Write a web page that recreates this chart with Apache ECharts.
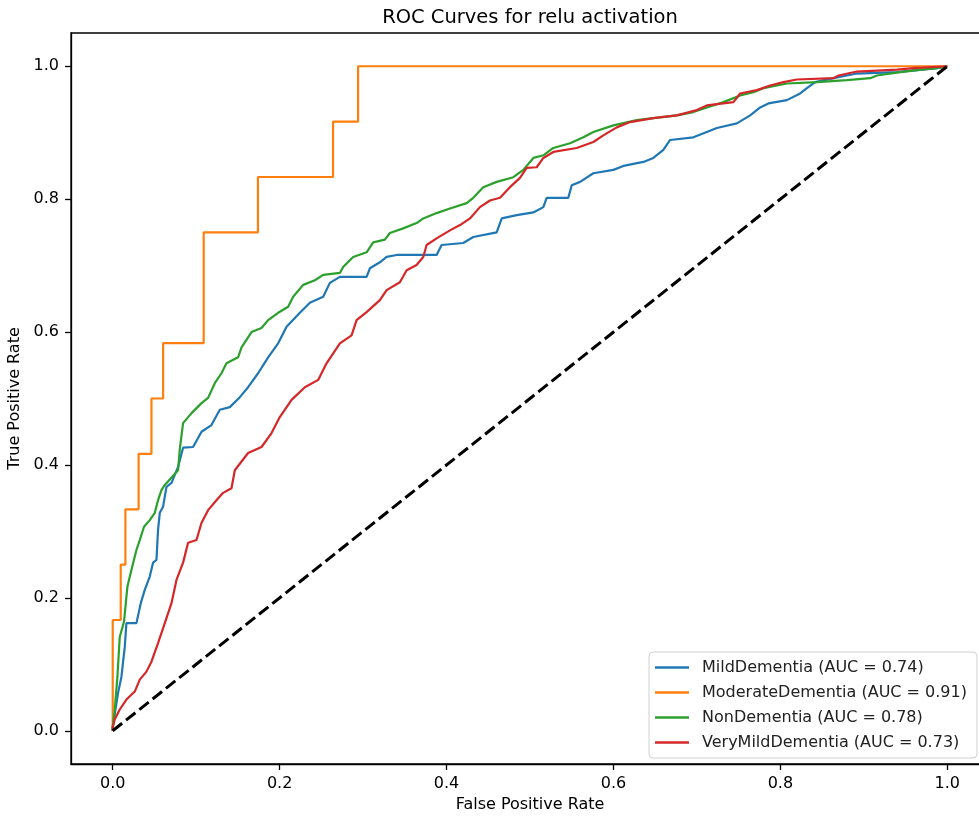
<!DOCTYPE html>
<html>
<head>
<meta charset="utf-8">
<title>ROC Curves for relu activation</title>
<script src="https://cdn.jsdelivr.net/npm/echarts@6/dist/echarts.min.js"></script>
<style>
  html, body { margin: 0; padding: 0; background: #fff; }
  #chart { width: 979px; height: 818px; }
</style>
</head>
<body>
<div id="chart"></div>
<script>
// tick labels
var tickValues = [0, 0.2, 0.4, 0.6, 0.8, 1.0];

// MildDementia
var mildFpr = [0, 0, 0.0064, 0.0104, 0.0144, 0.0164, 0.0284, 0.0336, 0.0384, 0.0444, 0.0483, 0.0524, 0.0543, 0.0564, 0.0603, 0.0644, 0.0704, 0.0783, 0.0843, 0.0963, 0.1064, 0.1183, 0.1283, 0.1403, 0.1523, 0.1622, 0.1742, 0.1862, 0.1982, 0.2083, 0.2242, 0.2362, 0.2522, 0.2602, 0.2722, 0.3042, 0.3082, 0.3201, 0.3282, 0.3402, 0.3881, 0.3941, 0.4200, 0.4320, 0.4601, 0.4661, 0.4841, 0.5040, 0.5160, 0.5200, 0.5459, 0.5500, 0.5600, 0.5759, 0.5999, 0.6119, 0.6359, 0.6478, 0.6598, 0.6679, 0.6958, 0.7239, 0.7479, 0.7638, 0.7758, 0.7857, 0.8078, 0.8237, 0.8318, 0.8417, 0.8637, 0.8917, 0.9397, 0.9637, 0.9876, 1];
var mildTpr = [0, 0.006, 0.057, 0.081, 0.126, 0.162, 0.162, 0.192, 0.212, 0.232, 0.253, 0.257, 0.302, 0.328, 0.337, 0.367, 0.373, 0.397, 0.426, 0.427, 0.450, 0.460, 0.483, 0.487, 0.502, 0.517, 0.538, 0.562, 0.583, 0.608, 0.629, 0.644, 0.653, 0.674, 0.683, 0.683, 0.696, 0.705, 0.713, 0.716, 0.716, 0.731, 0.734, 0.743, 0.750, 0.771, 0.776, 0.780, 0.788, 0.802, 0.802, 0.821, 0.826, 0.839, 0.844, 0.850, 0.856, 0.862, 0.874, 0.889, 0.893, 0.907, 0.914, 0.926, 0.938, 0.944, 0.949, 0.959, 0.967, 0.976, 0.982, 0.989, 0.991, 0.994, 0.997, 1];

// ModerateDementia
var moderateFpr = [0, 0, 0.0096, 0.0096, 0.0152, 0.0152, 0.031, 0.031, 0.0464, 0.0464, 0.0604, 0.0604, 0.109, 0.109, 0.109, 0.174, 0.174, 0.264, 0.264, 0.294, 0.294, 1];
var moderateTpr = [0, 0.1667, 0.1667, 0.25, 0.25, 0.3333, 0.3333, 0.4167, 0.4167, 0.5, 0.5, 0.5833, 0.5833, 0.6667, 0.75, 0.75, 0.8333, 0.8333, 0.9167, 0.9167, 1, 1];

// NonDementia
var nonFpr = [0, 0, 0.0024, 0.0056, 0.0084, 0.0135, 0.0176, 0.0224, 0.0284, 0.0324, 0.0375, 0.0444, 0.0504, 0.0543, 0.0584, 0.0624, 0.0783, 0.0803, 0.0843, 0.0944, 0.1064, 0.1143, 0.1223, 0.1303, 0.1363, 0.1502, 0.1543, 0.1663, 0.1783, 0.1862, 0.1982, 0.2102, 0.2162, 0.2282, 0.2422, 0.2522, 0.2722, 0.2761, 0.2881, 0.3042, 0.3121, 0.3261, 0.3321, 0.3481, 0.3641, 0.3721, 0.3881, 0.4041, 0.4241, 0.4320, 0.4440, 0.4601, 0.4800, 0.4920, 0.5040, 0.5160, 0.5279, 0.5480, 0.5639, 0.5759, 0.5999, 0.6279, 0.6478, 0.6759, 0.6958, 0.7119, 0.7318, 0.7518, 0.7677, 0.7797, 0.8078, 0.8438, 0.8798, 0.9077, 0.9157, 0.9436, 0.9637, 0.9876, 1];
var nonTpr = [0, 0.006, 0.032, 0.081, 0.141, 0.164, 0.217, 0.242, 0.272, 0.287, 0.307, 0.317, 0.328, 0.347, 0.362, 0.370, 0.392, 0.423, 0.463, 0.478, 0.493, 0.501, 0.523, 0.538, 0.553, 0.562, 0.577, 0.600, 0.606, 0.618, 0.629, 0.638, 0.653, 0.671, 0.678, 0.686, 0.689, 0.698, 0.713, 0.720, 0.735, 0.739, 0.749, 0.756, 0.764, 0.771, 0.779, 0.786, 0.794, 0.802, 0.818, 0.826, 0.833, 0.844, 0.862, 0.866, 0.877, 0.884, 0.893, 0.901, 0.911, 0.919, 0.922, 0.926, 0.931, 0.938, 0.946, 0.956, 0.961, 0.967, 0.974, 0.976, 0.979, 0.982, 0.986, 0.991, 0.994, 0.997, 1];

// VeryMildDementia
var veryMildFpr = [0, 0, 0.0024, 0.0084, 0.0164, 0.0264, 0.0324, 0.0404, 0.0464, 0.0543, 0.0624, 0.0704, 0.0764, 0.0843, 0.0903, 0.1004, 0.1064, 0.1143, 0.1243, 0.1323, 0.1423, 0.1463, 0.1622, 0.1783, 0.1903, 0.2002, 0.2143, 0.2302, 0.2462, 0.2562, 0.2722, 0.2862, 0.2922, 0.3042, 0.3201, 0.3282, 0.3441, 0.3522, 0.3641, 0.3721, 0.3761, 0.3881, 0.4041, 0.4161, 0.4281, 0.4400, 0.4520, 0.4640, 0.4760, 0.4880, 0.4960, 0.5080, 0.5160, 0.5279, 0.5560, 0.5759, 0.5879, 0.6040, 0.6199, 0.6478, 0.6759, 0.6999, 0.7119, 0.7438, 0.7518, 0.7718, 0.7878, 0.8037, 0.8197, 0.8637, 0.8697, 0.8917, 0.9397, 0.9596, 1];
var veryMildTpr = [0, 0.005, 0.017, 0.032, 0.047, 0.059, 0.077, 0.089, 0.104, 0.132, 0.162, 0.192, 0.227, 0.253, 0.283, 0.287, 0.313, 0.332, 0.347, 0.358, 0.365, 0.392, 0.418, 0.427, 0.448, 0.472, 0.498, 0.517, 0.528, 0.553, 0.583, 0.595, 0.618, 0.630, 0.648, 0.663, 0.675, 0.693, 0.701, 0.713, 0.731, 0.741, 0.753, 0.761, 0.771, 0.788, 0.798, 0.802, 0.818, 0.832, 0.847, 0.848, 0.862, 0.871, 0.877, 0.886, 0.896, 0.908, 0.916, 0.922, 0.926, 0.934, 0.941, 0.946, 0.959, 0.964, 0.971, 0.976, 0.980, 0.982, 0.986, 0.992, 0.995, 0.997, 1];

// chance line
var chanceX = [0, 1];
var chanceY = [0, 1];

var names = ['MildDementia (AUC = 0.74)', 'ModerateDementia (AUC = 0.91)', 'NonDementia (AUC = 0.78)', 'VeryMildDementia (AUC = 0.73)'];
var colors = ['#1f77b4', '#ff7f0e', '#2ca02c', '#d62728'];

function pairs(xs, ys) {
    var out = [];
    for (var i = 0; i < xs.length; i++) {
        out.push([xs[i], ys[i]]);
    }
    return out;
}

var FONT = 'DejaVu Sans';

var myChart = echarts.init(document.getElementById('chart'), null, { renderer: 'canvas' });

function rocSeries(name, color, xs, ys) {
    return {
        name: name,
        type: 'line',
        data: pairs(xs, ys),
        symbol: 'none',
        animation: false,
        lineStyle: { color: color, width: 2.2 },
        itemStyle: { color: color }
    };
}

function axisCommon() {
    return {
        type: 'value',
        min: -0.05,
        max: 1.05,
        splitLine: { show: false },
        axisLine: { onZero: false, lineStyle: { color: '#000', width: 1.3 } },
        axisTick: { show: true, inside: false, length: 6, customValues: tickValues, lineStyle: { color: '#000', width: 1.3 } },
        axisLabel: {
            customValues: tickValues,
            color: '#000',
            fontSize: 16,
            fontFamily: FONT,
            margin: 12,
            formatter: function (v) { return v.toFixed(1); }
        },
        nameLocation: 'middle',
        nameTextStyle: { color: '#000', fontSize: 16, fontFamily: FONT }
    };
}

var xAxis = axisCommon();
xAxis.name = 'False Positive Rate';
xAxis.nameGap = 32;

var yAxis = axisCommon();
yAxis.name = 'True Positive Rate';
yAxis.nameGap = 39;

var option = {
    backgroundColor: '#fff',
    animation: false,
    title: {
        text: 'ROC Curves for relu activation',
        left: 525,
        textAlign: 'center',
        top: 3,
        textStyle: { color: '#000', fontSize: 19.5, fontWeight: 'normal', fontFamily: FONT }
    },
    grid: {
        left: 71,
        width: 918,
        top: 33,
        bottom: 54,
        outerBoundsMode: 'none',
        containLabel: false,
        show: true,
        borderColor: '#000',
        borderWidth: 1.3,
        backgroundColor: 'transparent'
    },
    legend: {
        data: names,
        orient: 'vertical',
        left: 649,
        top: 652,
        padding: [7, 10, 7, 6],
        icon: 'rect',
        itemWidth: 34,
        itemHeight: 2.4,
        itemGap: 8,
        backgroundColor: '#fff',
        borderColor: '#d0d0d0',
        borderWidth: 1,
        borderRadius: 4,
        textStyle: { color: '#222', fontSize: 16, fontFamily: FONT, lineHeight: 17, padding: [0, 0, 0, 8] }
    },
    xAxis: xAxis,
    yAxis: yAxis,
    series: [
        rocSeries(names[0], colors[0], mildFpr, mildTpr),
        rocSeries(names[1], colors[1], moderateFpr, moderateTpr),
        rocSeries(names[2], colors[2], nonFpr, nonTpr),
        rocSeries(names[3], colors[3], veryMildFpr, veryMildTpr),
        {
            name: 'chance',
            type: 'line',
            data: pairs(chanceX, chanceY),
            symbol: 'none',
            animation: false,
            lineStyle: { color: '#000', width: 3, type: [12, 5] }
        }
    ]
};

option && myChart.setOption(option);
</script>
</body>
</html>
